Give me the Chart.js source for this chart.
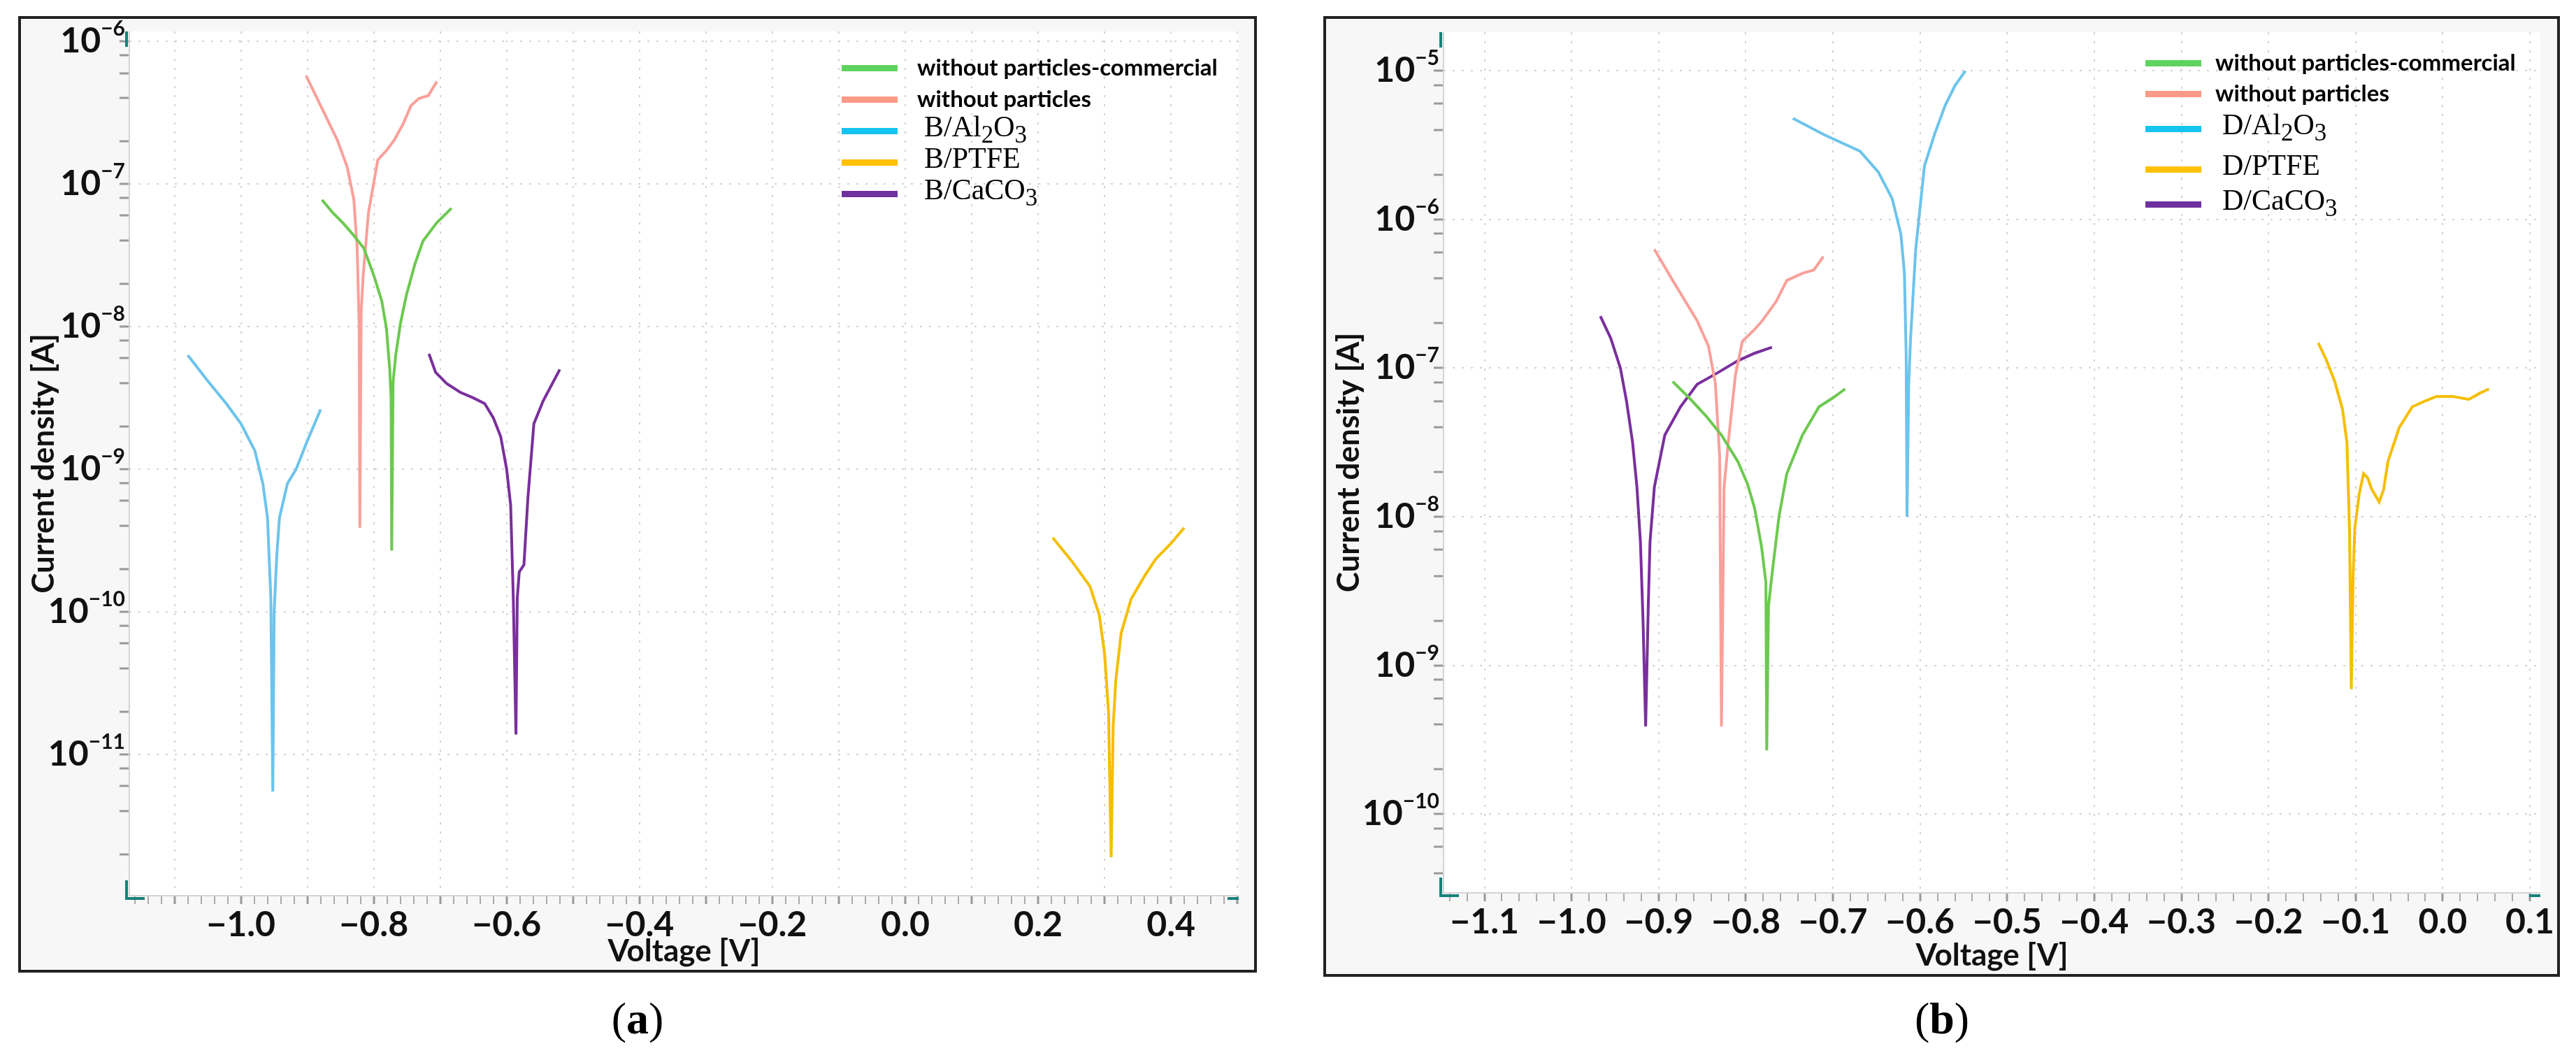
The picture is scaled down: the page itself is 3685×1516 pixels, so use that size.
<!DOCTYPE html>
<html>
<head>
<meta charset="UTF-8"/>
<script src="https://cdn.jsdelivr.net/npm/chart.js"></script>
<style>
  body { margin: 0; width: 3685px; height: 1516px; background: #fff; position: relative; overflow: hidden; }
  .frame { position: absolute; border: 4px solid #222; background: #f7f7f7; box-sizing: border-box; }
  .frame canvas { position: absolute; left: 0; top: 0; }
  .legend { position: absolute; font-family: Lato, sans-serif; }
  .legend .row { position: absolute; left: 0; white-space: nowrap; }
  .legend .sw { position: absolute; left: 0; width: 80px; height: 9px; }
  .legend .tx { position: absolute; font-weight: bold; font-size: 33px; line-height: 1; }
  .legend .tx.serif { font-family: "Liberation Serif", serif; font-weight: normal; font-size: 42px; }
  .cap { position: absolute; font-family: "Liberation Serif", serif; font-size: 64px; transform: translateX(-50%); }
</style>
</head>
<body>
<div class="frame" id="fa" style="left:26px;top:23px;width:1772px;height:1368px;"><canvas id="ca"></canvas></div>
<div class="frame" id="fb" style="left:1893px;top:23px;width:1769px;height:1374px;"><canvas id="cb"></canvas></div>
<div class="legend" id="la" style="left:1204px;top:0px;"></div>
<div class="legend" id="lb" style="left:3069px;top:0px;"></div>
<div class="cap" style="left:912px;top:1420px;">(<b>a</b>)</div>
<div class="cap" style="left:2778px;top:1420px;">(<b>b</b>)</div>
<script>
// voltage [V] and log10 of current density [A]
// panel (a)
const aComV = [-0.878, -0.862, -0.845, -0.832, -0.815, -0.800, -0.788, -0.781, -0.776, -0.774, -0.773, -0.771, -0.767, -0.760, -0.751, -0.738, -0.726, -0.705, -0.683];
const aComE = [-7.11, -7.20, -7.28, -7.35, -7.45, -7.64, -7.82, -8.01, -8.30, -8.49, -9.57, -8.39, -8.20, -7.98, -7.78, -7.56, -7.40, -7.27, -7.17];
const aNoV = [-0.902, -0.880, -0.855, -0.840, -0.830, -0.825, -0.822, -0.821, -0.819, -0.816, -0.808, -0.794, -0.780, -0.769, -0.756, -0.744, -0.732, -0.718, -0.705];
const aNoE = [-6.24, -6.45, -6.69, -6.88, -7.11, -7.45, -8.00, -9.41, -7.90, -7.64, -7.20, -6.83, -6.76, -6.69, -6.58, -6.45, -6.40, -6.38, -6.28];
const aAlV = [-1.080, -1.050, -1.022, -1.000, -0.979, -0.967, -0.960, -0.955, -0.952, -0.950, -0.946, -0.942, -0.930, -0.917, -0.900, -0.880];
const aAlE = [-8.20, -8.38, -8.54, -8.68, -8.87, -9.10, -9.34, -9.90, -11.26, -10.00, -9.60, -9.34, -9.10, -9.00, -8.80, -8.58];
const aPtV = [0.222, 0.250, 0.278, 0.292, 0.300, 0.306, 0.310, 0.313, 0.317, 0.325, 0.340, 0.360, 0.377, 0.400, 0.420];
const aPtE = [-9.48, -9.64, -9.82, -10.02, -10.29, -10.70, -11.72, -10.80, -10.48, -10.15, -9.91, -9.75, -9.63, -9.52, -9.41];
const aCaV = [-0.717, -0.707, -0.690, -0.670, -0.650, -0.633, -0.620, -0.609, -0.600, -0.594, -0.590, -0.586, -0.584, -0.581, -0.574, -0.568, -0.559, -0.545, -0.520];
const aCaE = [-8.19, -8.32, -8.40, -8.46, -8.50, -8.54, -8.64, -8.77, -9.00, -9.25, -9.90, -10.86, -9.90, -9.72, -9.67, -9.20, -8.68, -8.52, -8.30];
// panel (b)
const bComV = [-0.884, -0.865, -0.846, -0.828, -0.809, -0.798, -0.790, -0.782, -0.777, -0.776, -0.774, -0.770, -0.762, -0.753, -0.735, -0.716, -0.700, -0.686];
const bComE = [-7.09, -7.20, -7.32, -7.45, -7.63, -7.78, -7.94, -8.20, -8.44, -9.57, -8.60, -8.39, -8.00, -7.71, -7.45, -7.26, -7.20, -7.14];
const bNoV = [-0.905, -0.884, -0.856, -0.843, -0.835, -0.830, -0.828, -0.825, -0.820, -0.812, -0.804, -0.790, -0.781, -0.765, -0.753, -0.734, -0.722, -0.711];
const bNoE = [-6.20, -6.41, -6.68, -6.85, -7.10, -7.60, -9.41, -7.80, -7.49, -7.05, -6.82, -6.74, -6.68, -6.55, -6.41, -6.36, -6.34, -6.25];
const bAlV = [-0.746, -0.710, -0.669, -0.648, -0.632, -0.622, -0.618, -0.616, -0.615, -0.613, -0.611, -0.605, -0.595, -0.583, -0.571, -0.560, -0.548];
const bAlE = [-5.32, -5.43, -5.54, -5.68, -5.86, -6.10, -6.36, -6.90, -8.00, -7.10, -6.81, -6.20, -5.64, -5.42, -5.23, -5.10, -5.00];
const bPtV = [-0.143, -0.134, -0.124, -0.115, -0.110, -0.107, -0.105, -0.103, -0.101, -0.096, -0.091, -0.086, -0.082, -0.073, -0.068, -0.063, -0.050, -0.035, -0.020, -0.007, 0.011, 0.030, 0.042, 0.053];
const bPtE = [-6.83, -6.94, -7.09, -7.28, -7.50, -8.10, -9.16, -8.40, -8.08, -7.85, -7.71, -7.74, -7.81, -7.90, -7.82, -7.63, -7.40, -7.26, -7.22, -7.19, -7.19, -7.21, -7.17, -7.14];
const bCaV = [-0.967, -0.955, -0.944, -0.937, -0.930, -0.925, -0.921, -0.918, -0.915, -0.912, -0.910, -0.905, -0.893, -0.875, -0.856, -0.832, -0.809, -0.790, -0.770];
const bCaE = [-6.65, -6.80, -7.00, -7.22, -7.50, -7.80, -8.17, -8.70, -9.41, -8.60, -8.17, -7.80, -7.45, -7.26, -7.11, -7.03, -6.95, -6.90, -6.86];

const legendA = ['without particles-commercial', 'without particles', 'B/Al<sub>2</sub>O<sub>3</sub>', 'B/PTFE', 'B/CaCO<sub>3</sub>'];
const legendB = ['without particles-commercial', 'without particles', 'D/Al<sub>2</sub>O<sub>3</sub>', 'D/PTFE', 'D/CaCO<sub>3</sub>'];
const lineColors = ['#6cc94f', '#f9a09a', '#6cc4ec', '#f5be00', '#7a2f9c'];
const swatchColors = ['#5dd35d', '#fb9a86', '#15c5f0', '#ffc000', '#7030a0'];

const pts = (v, e) => v.map((x, i) => ({ x: x, y: Math.pow(10, e[i]) }));
const near = (v, step) => Math.abs(v / step - Math.round(v / step)) < 1e-6;

const bgPlugin = {
  id: 'bg',
  beforeDraw(chart) {
    const { ctx, chartArea: a } = chart;
    ctx.save();
    ctx.fillStyle = '#ffffff';
    ctx.fillRect(a.left, a.top, a.right - a.left, a.bottom - a.top);
    ctx.restore();
  },
  afterDraw(chart) {
    const { ctx, chartArea: a } = chart;
    const ys = chart.scales.y;
    ctx.save();
    // axis lines
    ctx.strokeStyle = '#d4d4d4';
    ctx.lineWidth = 2;
    ctx.beginPath();
    ctx.moveTo(a.left, a.top); ctx.lineTo(a.left, a.bottom); ctx.lineTo(a.right, a.bottom);
    ctx.stroke();
    // decade labels 10^n
    ctx.fillStyle = '#111';
    ctx.textBaseline = 'alphabetic';
    for (let d = Math.ceil(Math.log10(ys.min) - 1e-9); d <= Math.floor(Math.log10(ys.max) + 1e-9); d++) {
      const y = ys.getPixelForValue(Math.pow(10, d));
      const sup = '\u2212' + Math.abs(d);
      ctx.font = 'bold 30px Lato';
      const sw = ctx.measureText(sup).width;
      ctx.textAlign = 'right';
      ctx.fillText(sup, a.left - 6, y - 8);
      ctx.font = 'bold 50px Lato';
      ctx.fillText('10', a.left - 6 - sw, y + 16);
    }
    // teal corner marks
    ctx.strokeStyle = '#17817a';
    ctx.lineWidth = 4;
    ctx.beginPath();
    ctx.moveTo(a.left - 4, a.bottom - 22); ctx.lineTo(a.left - 4, a.bottom + 4); ctx.lineTo(a.left + 22, a.bottom + 4);
    ctx.moveTo(a.left - 4, a.top); ctx.lineTo(a.left - 4, a.top + 22);
    ctx.moveTo(a.right - 16, a.bottom + 4); ctx.lineTo(a.right, a.bottom + 4);
    ctx.stroke();
    ctx.restore();
  }
};

function makeChart(id, sets, labels, opt) {
  const datasets = sets.map((s, i) => ({
    label: labels[i], data: s, borderColor: lineColors[i], borderWidth: 4,
    pointRadius: 0, tension: 0, fill: false
  }));
  return new Chart(document.getElementById(id), {
    type: 'line',
    data: { datasets: datasets },
    plugins: [bgPlugin],
    options: {
      responsive: false, animation: false,
      layout: { padding: { top: opt.padTop, right: opt.padRight } },
      plugins: { legend: { display: false }, tooltip: { enabled: false } },
      scales: {
        x: {
          type: 'linear', min: opt.xMin, max: opt.xMax,
          afterBuildTicks(s) {
            const t = [];
            for (let k = Math.ceil(opt.xMin / 0.02); k <= Math.floor(opt.xMax / 0.02); k++) t.push({ value: +(k * 0.02).toFixed(2) });
            s.ticks = t;
          },
          afterFit(s) { s.height = opt.xH; },
          border: { display: false, dash: [3, 10] },
          grid: {
            color: c => near(c.tick.value, 0.1) ? '#d2d2d2' : 'rgba(0,0,0,0)',
            lineWidth: 2, tickLength: 12,
            tickColor: c => near(c.tick.value, 0.1) ? '#999' : '#aaa',
            tickWidth: c => near(c.tick.value, 0.1) ? 3 : 2
          },
          ticks: {
            autoSkip: false, maxRotation: 0, padding: 0, color: '#111',
            font: { family: 'Lato', size: 50, weight: 'bold' },
            callback: v => near(v, opt.labelStep) ? (v < -1e-9 ? '\u2212' : '') + Math.abs(v).toFixed(1) : ''
          },
          title: { display: true, text: 'Voltage [V]', color: '#111', padding: 0, font: { family: 'Lato', size: 44, weight: 'bold' } }
        },
        y: {
          type: 'logarithmic', min: opt.yMin, max: opt.yMax,
          afterBuildTicks(s) {
            const t = [];
            for (let d = Math.floor(Math.log10(opt.yMin)); d <= Math.ceil(Math.log10(opt.yMax)); d++) {
              [1, 2, 4, 6, 8].forEach(m => { const v = m * Math.pow(10, d); if (v >= opt.yMin && v <= opt.yMax) t.push({ value: v, major: m === 1 }); });
            }
            s.ticks = t;
          },
          afterFit(s) { s.width = opt.yW; },
          border: { display: false, dash: [3, 10] },
          grid: {
            color: c => c.tick.major ? '#d2d2d2' : 'rgba(0,0,0,0)',
            lineWidth: 2, tickLength: 14,
            tickColor: '#999', tickWidth: 3
          },
          ticks: { autoSkip: false, callback: () => '', padding: 0 },
          title: { display: true, text: 'Current density [A]', color: '#111', padding: 6, font: { family: 'Lato', size: 44, weight: 'bold' } }
        }
      }
    }
  });
}

function buildLegend(id, labels, top, gap, serifFrom, textDx) {
  const el = document.getElementById(id);
  labels.forEach((l, i) => {
    const y = top + (Array.isArray(gap) ? gap[i] : gap * i);
    const serif = i >= serifFrom;
    el.innerHTML += `<div class="row" style="top:${y}px">
      <div class="sw" style="background:${swatchColors[i]};top:-4px"></div>
      <div class="tx${serif ? ' serif' : ''}" style="left:${textDx + (serif ? 10 : 0)}px;top:${serif ? -27 : -18}px">${l}</div></div>`;
  });
}

function sizeCanvas(id, w, h) { const c = document.getElementById(id); c.width = w; c.height = h; c.style.width = w + 'px'; c.style.height = h + 'px'; }
sizeCanvas('ca', 1764, 1360);
sizeCanvas('cb', 1761, 1366);

makeChart('ca', [pts(aComV, aComE), pts(aNoV, aNoE), pts(aAlV, aAlE), pts(aPtV, aPtE), pts(aCaV, aCaE)], legendA,
  { xMin: -1.168, xMax: 0.502, yMin: Math.pow(10, -11.99), yMax: Math.pow(10, -5.93), labelStep: 0.2, padTop: 18, padRight: 22, xH: 106, yW: 155 });
makeChart('cb', [pts(bComV, bComE), pts(bNoV, bNoE), pts(bAlV, bAlE), pts(bPtV, bPtE), pts(bCaV, bCaE)], legendB,
  { xMin: -1.147, xMax: 0.112, yMin: Math.pow(10, -10.53), yMax: Math.pow(10, -4.74), labelStep: 0.1, padTop: 19, padRight: 24, xH: 116, yW: 168 });

buildLegend('la', legendA, 97, 45, 2, 108);
buildLegend('lb', legendB, 90, [0, 44, 94, 152, 202], 2, 100);
</script>
</body>
</html>
